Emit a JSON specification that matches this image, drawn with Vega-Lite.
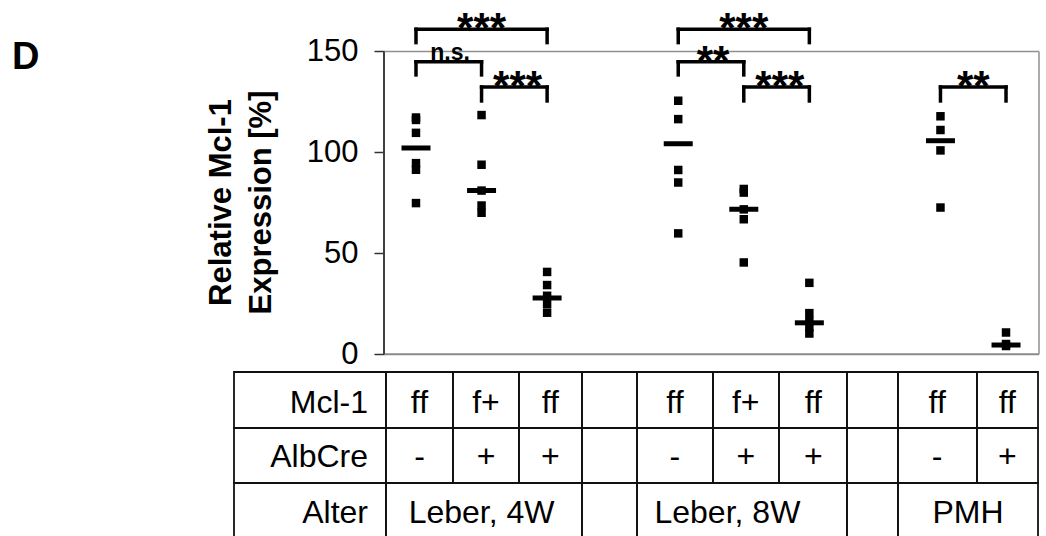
{
  "$schema": "https://vega.github.io/schema/vega-lite/v6.json",
  "width": 805,
  "height": 536,
  "autosize": "none",
  "padding": {"left": 234, "top": 0, "right": 7, "bottom": 0},
  "background": "white",
  "config": {"view": {"stroke": null}, "font": "Liberation Sans"},
  "title": {"text": "D", "anchor": "start", "frame": "group", "fontSize": 38, "fontWeight": "bold", "font": "Liberation Sans", "color": "black", "offset": 0, "baseline": "alphabetic", "dx": -222, "dy": 107},
  "datasets": {
    "pts": [
      {"col": 0, "value": 117.3}, {"col": 0, "value": 116.1}, {"col": 0, "value": 109.7}, {"col": 0, "value": 94.7}, {"col": 0, "value": 91.4}, {"col": 0, "value": 74.9},
      {"col": 1, "value": 118.5}, {"col": 1, "value": 93.9}, {"col": 1, "value": 81.1}, {"col": 1, "value": 73.7}, {"col": 1, "value": 70.1},
      {"col": 2, "value": 40.8}, {"col": 2, "value": 34.3}, {"col": 2, "value": 29.0}, {"col": 2, "value": 24.9}, {"col": 2, "value": 20.6},
      {"col": 4, "value": 125.6}, {"col": 4, "value": 116.5}, {"col": 4, "value": 91.3}, {"col": 4, "value": 85.1}, {"col": 4, "value": 59.9},
      {"col": 5, "value": 81.9}, {"col": 5, "value": 80.1}, {"col": 5, "value": 71.8}, {"col": 5, "value": 66.9}, {"col": 5, "value": 45.5},
      {"col": 6, "value": 35.4}, {"col": 6, "value": 20.4}, {"col": 6, "value": 16.5}, {"col": 6, "value": 13.5}, {"col": 6, "value": 10.3},
      {"col": 8, "value": 117.9}, {"col": 8, "value": 111.1}, {"col": 8, "value": 101.0}, {"col": 8, "value": 72.7},
      {"col": 9, "value": 10.8}, {"col": 9, "value": 5.1}, {"col": 9, "value": 4.1}
    ],
    "medians": [
      {"col": 0, "median": 102.2}, {"col": 1, "median": 81.1}, {"col": 2, "median": 27.9}, {"col": 4, "median": 104.3},
      {"col": 5, "median": 71.8}, {"col": 6, "median": 15.6}, {"col": 8, "median": 105.8}, {"col": 9, "median": 4.6}
    ],
    "brackets": [
      {"x1": 0, "x2": 2, "mid": 1.0, "top": 161.0, "bot": 154.4, "label": "***"},
      {"x1": 0, "x2": 1, "mid": 0.52, "top": 144.9, "bot": 138.4, "label": "n.s."},
      {"x1": 1, "x2": 2, "mid": 1.55, "top": 132.4, "bot": 125.5, "label": "***"},
      {"x1": 4, "x2": 6, "mid": 5.0, "top": 161.0, "bot": 154.4, "label": "***"},
      {"x1": 4, "x2": 5, "mid": 4.53, "top": 144.9, "bot": 138.4, "label": "**"},
      {"x1": 5, "x2": 6, "mid": 5.55, "top": 132.4, "bot": 125.5, "label": "***"},
      {"x1": 8, "x2": 9, "mid": 8.5, "top": 132.4, "bot": 125.5, "label": "**"}
    ],
    "cells": [
      {"row": "Mcl-1", "kind": "head", "c0": -2.776, "c1": -0.458, "ytop": -8.77, "ybot": -36.51, "tb": -29.08, "tx": -0.732, "txt": "Mcl-1"},
      {"row": "Mcl-1", "kind": "cell", "c0": -0.458, "c1": 0.564, "ytop": -8.77, "ybot": -36.51, "tb": -29.08, "tx": 0.053, "txt": "ff"},
      {"row": "Mcl-1", "kind": "cell", "c0": 0.564, "c1": 1.571, "ytop": -8.77, "ybot": -36.51, "tb": -29.08, "tx": 1.068, "txt": "f+"},
      {"row": "Mcl-1", "kind": "cell", "c0": 1.571, "c1": 2.532, "ytop": -8.77, "ybot": -36.51, "tb": -29.08, "tx": 2.05, "txt": "ff"},
      {"row": "Mcl-1", "kind": "cell", "c0": 2.532, "c1": 3.371, "ytop": -8.77, "ybot": -36.51, "tb": -29.08, "tx": 2.95, "txt": ""},
      {"row": "Mcl-1", "kind": "cell", "c0": 3.371, "c1": 4.53, "ytop": -8.77, "ybot": -36.51, "tb": -29.08, "tx": 3.95, "txt": "ff"},
      {"row": "Mcl-1", "kind": "cell", "c0": 4.53, "c1": 5.537, "ytop": -8.77, "ybot": -36.51, "tb": -29.08, "tx": 5.03, "txt": "f+"},
      {"row": "Mcl-1", "kind": "cell", "c0": 5.537, "c1": 6.574, "ytop": -8.77, "ybot": -36.51, "tb": -29.08, "tx": 6.06, "txt": "ff"},
      {"row": "Mcl-1", "kind": "cell", "c0": 6.574, "c1": 7.352, "ytop": -8.77, "ybot": -36.51, "tb": -29.08, "tx": 6.96, "txt": ""},
      {"row": "Mcl-1", "kind": "cell", "c0": 7.352, "c1": 8.557, "ytop": -8.77, "ybot": -36.51, "tb": -29.08, "tx": 7.95, "txt": "ff"},
      {"row": "Mcl-1", "kind": "cell", "c0": 8.557, "c1": 9.488, "ytop": -8.77, "ybot": -36.51, "tb": -29.08, "tx": 9.02, "txt": "ff"},
      {"row": "AlbCre", "kind": "head", "c0": -2.776, "c1": -0.458, "ytop": -36.51, "ybot": -63.75, "tb": -55.98, "tx": -0.732, "txt": "AlbCre"},
      {"row": "AlbCre", "kind": "cell", "c0": -0.458, "c1": 0.564, "ytop": -36.51, "ybot": -63.75, "tb": -55.98, "tx": 0.053, "txt": "-"},
      {"row": "AlbCre", "kind": "cell", "c0": 0.564, "c1": 1.571, "ytop": -36.51, "ybot": -63.75, "tb": -55.98, "tx": 1.068, "txt": "+"},
      {"row": "AlbCre", "kind": "cell", "c0": 1.571, "c1": 2.532, "ytop": -36.51, "ybot": -63.75, "tb": -55.98, "tx": 2.05, "txt": "+"},
      {"row": "AlbCre", "kind": "cell", "c0": 2.532, "c1": 3.371, "ytop": -36.51, "ybot": -63.75, "tb": -55.98, "tx": 2.95, "txt": ""},
      {"row": "AlbCre", "kind": "cell", "c0": 3.371, "c1": 4.53, "ytop": -36.51, "ybot": -63.75, "tb": -55.98, "tx": 3.95, "txt": "-"},
      {"row": "AlbCre", "kind": "cell", "c0": 4.53, "c1": 5.537, "ytop": -36.51, "ybot": -63.75, "tb": -55.98, "tx": 5.03, "txt": "+"},
      {"row": "AlbCre", "kind": "cell", "c0": 5.537, "c1": 6.574, "ytop": -36.51, "ybot": -63.75, "tb": -55.98, "tx": 6.06, "txt": "+"},
      {"row": "AlbCre", "kind": "cell", "c0": 6.574, "c1": 7.352, "ytop": -36.51, "ybot": -63.75, "tb": -55.98, "tx": 6.96, "txt": ""},
      {"row": "AlbCre", "kind": "cell", "c0": 7.352, "c1": 8.557, "ytop": -36.51, "ybot": -63.75, "tb": -55.98, "tx": 7.95, "txt": "-"},
      {"row": "AlbCre", "kind": "cell", "c0": 8.557, "c1": 9.488, "ytop": -36.51, "ybot": -63.75, "tb": -55.98, "tx": 9.02, "txt": "+"},
      {"row": "Alter", "kind": "head", "c0": -2.776, "c1": -0.458, "ytop": -63.75, "ybot": -91.5, "tb": -83.72, "tx": -0.732, "txt": "Alter"},
      {"row": "Alter", "kind": "cell", "c0": -0.458, "c1": 2.532, "ytop": -63.75, "ybot": -91.5, "tb": -83.72, "tx": 1.0, "txt": "Leber, 4W"},
      {"row": "Alter", "kind": "cell", "c0": 2.532, "c1": 3.371, "ytop": -63.75, "ybot": -91.5, "tb": -83.72, "tx": 2.95, "txt": ""},
      {"row": "Alter", "kind": "cell", "c0": 3.371, "c1": 6.574, "ytop": -63.75, "ybot": -91.5, "tb": -83.72, "tx": 4.75, "txt": "Leber, 8W"},
      {"row": "Alter", "kind": "cell", "c0": 6.574, "c1": 7.352, "ytop": -63.75, "ybot": -91.5, "tb": -83.72, "tx": 6.96, "txt": ""},
      {"row": "Alter", "kind": "cell", "c0": 7.352, "c1": 9.488, "ytop": -63.75, "ybot": -91.5, "tb": -83.72, "tx": 8.42, "txt": "PMH"}
    ]
  },
  "layer": [
    {
      "data": {"name": "pts"},
      "mark": {"type": "point", "shape": "square", "filled": true, "size": 72, "color": "black", "opacity": 1},
      "encoding": {
        "x": {"field": "col", "type": "quantitative", "scale": {"domain": [-2.776, 9.503], "nice": false, "zero": false}, "axis": null},
        "y": {
          "field": "value", "type": "quantitative",
          "scale": {"domain": [-90, 175.5], "nice": false, "zero": false},
          "axis": {
            "values": [0, 50, 100, 150], "domain": false, "grid": false, "offset": -150,
            "tickSize": 10, "tickColor": "#333333", "tickWidth": 1.5,
            "labelFont": "Liberation Sans", "labelFontSize": 31, "labelColor": "black", "labelPadding": 16,
            "labelFlush": false, "labelOverlap": false,
            "title": ["Relative Mcl-1", "Expression [%]"],
            "titleFont": "Liberation Sans", "titleFontSize": 31, "titleFontWeight": "bold", "titleColor": "black",
            "titleAngle": -90, "titleX": -154, "titleY": 202, "titleAlign": "center", "titleBaseline": "alphabetic", "titleLineHeight": 40
          }
        }
      }
    },
    {
      "data": {"values": [{}]},
      "mark": {"type": "rule", "color": "#909090", "strokeWidth": 1.5},
      "encoding": {
        "x": {"datum": -0.488, "type": "quantitative"},
        "x2": {"datum": 9.503},
        "y": {"datum": 150, "type": "quantitative"}
      }
    },
    {
      "data": {"values": [{}]},
      "mark": {"type": "rule", "color": "#909090", "strokeWidth": 1.5},
      "encoding": {
        "x": {"datum": 9.503, "type": "quantitative"},
        "y": {"datum": 0, "type": "quantitative"},
        "y2": {"datum": 150}
      }
    },
    {
      "data": {"values": [{}]},
      "mark": {"type": "rule", "color": "#8a8a8a", "strokeWidth": 2},
      "encoding": {
        "x": {"datum": -0.488, "type": "quantitative"},
        "x2": {"datum": 9.503},
        "y": {"datum": 0, "type": "quantitative"}
      }
    },
    {
      "data": {"values": [{}]},
      "mark": {"type": "rule", "color": "#404040", "strokeWidth": 2},
      "encoding": {
        "x": {"datum": -0.488, "type": "quantitative"},
        "y": {"datum": 0, "type": "quantitative"},
        "y2": {"datum": 150}
      }
    },
    {
      "data": {"name": "cells"},
      "mark": {"type": "rect", "filled": false, "stroke": "#111111", "strokeWidth": 1.8},
      "encoding": {
        "x": {"field": "c0", "type": "quantitative"},
        "x2": {"field": "c1"},
        "y": {"field": "ytop", "type": "quantitative"},
        "y2": {"field": "ybot"}
      }
    },
    {
      "data": {"name": "cells"},
      "transform": [{"filter": "datum.kind === 'cell'"}],
      "mark": {"type": "text", "fontSize": 32, "font": "Liberation Sans", "color": "black", "align": "center", "baseline": "alphabetic"},
      "encoding": {
        "x": {"field": "tx", "type": "quantitative"},
        "y": {"field": "tb", "type": "quantitative"},
        "text": {"field": "txt"}
      }
    },
    {
      "data": {"name": "cells"},
      "transform": [{"filter": "datum.kind === 'head'"}],
      "mark": {"type": "text", "fontSize": 32, "font": "Liberation Sans", "color": "black", "align": "right", "baseline": "alphabetic"},
      "encoding": {
        "x": {"field": "tx", "type": "quantitative"},
        "y": {"field": "tb", "type": "quantitative"},
        "text": {"field": "txt"}
      }
    },
    {
      "data": {"name": "medians"},
      "mark": {"type": "tick", "orient": "horizontal", "size": 29, "thickness": 5, "color": "black", "opacity": 1},
      "encoding": {
        "x": {"field": "col", "type": "quantitative"},
        "y": {"field": "median", "type": "quantitative"}
      }
    },
    {
      "data": {"name": "brackets"},
      "mark": {"type": "rule", "color": "black", "strokeWidth": 3.5, "strokeCap": "square"},
      "encoding": {
        "x": {"field": "x1", "type": "quantitative"},
        "x2": {"field": "x2"},
        "y": {"field": "top", "type": "quantitative"}
      }
    },
    {
      "data": {"name": "brackets"},
      "mark": {"type": "rule", "color": "black", "strokeWidth": 3.5, "strokeCap": "square"},
      "encoding": {
        "x": {"field": "x1", "type": "quantitative"},
        "y": {"field": "top", "type": "quantitative"},
        "y2": {"field": "bot"}
      }
    },
    {
      "data": {"name": "brackets"},
      "mark": {"type": "rule", "color": "black", "strokeWidth": 3.5, "strokeCap": "square"},
      "encoding": {
        "x": {"field": "x2", "type": "quantitative"},
        "y": {"field": "top", "type": "quantitative"},
        "y2": {"field": "bot"}
      }
    },
    {
      "data": {"name": "brackets"},
      "transform": [{"filter": "datum.label !== 'n.s.'"}],
      "mark": {"type": "text", "fontSize": 42, "fontWeight": "bold", "font": "Liberation Sans", "color": "black", "align": "center", "baseline": "alphabetic", "dy": 13},
      "encoding": {
        "x": {"field": "mid", "type": "quantitative"},
        "y": {"field": "top", "type": "quantitative"},
        "text": {"field": "label"}
      }
    },
    {
      "data": {"name": "brackets"},
      "transform": [{"filter": "datum.label === 'n.s.'"}],
      "mark": {"type": "text", "fontSize": 23, "fontWeight": "bold", "font": "Liberation Sans", "color": "black", "align": "center", "baseline": "alphabetic", "dy": -2},
      "encoding": {
        "x": {"field": "mid", "type": "quantitative"},
        "y": {"field": "top", "type": "quantitative"},
        "text": {"field": "label"}
      }
    }
  ]
}
